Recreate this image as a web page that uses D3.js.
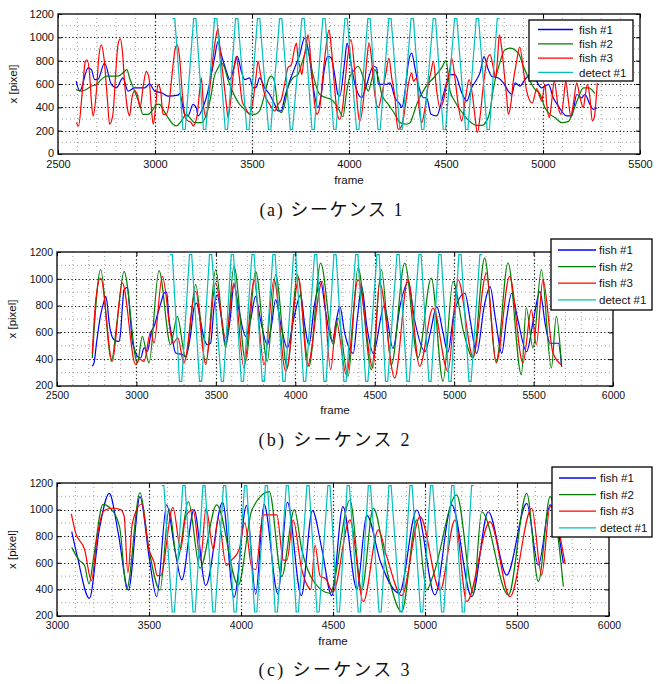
<!DOCTYPE html>
<html>
<head>
<meta charset="utf-8">
<script src="https://cdn.jsdelivr.net/npm/d3@7"></script>
<style>
body { margin: 0; background: #fff; }
text { font-family: "Liberation Sans", Arial, sans-serif; fill: #111; }
.caption { font-family: "Liberation Serif", "DejaVu Serif", "Noto Sans CJK JP", serif; }
</style>
</head>
<body>
<svg id="fig" width="665" height="684"></svg>
<script>
// ---- shared ----
var seriesNames = ["fish #1", "fish #2", "fish #3", "detect #1"];
var seriesColors = ["#0000ff", "#008000", "#ff0000", "#00bfbf"];

// ---- (a) sequence 1 ----
var aXTicks = [2500, 3000, 3500, 4000, 4500, 5000, 5500];
var aYTicks = [0, 200, 400, 600, 800, 1000, 1200];
var aFish1 = [[2594,624],[2612,539],[2655,738],[2672,723],[2689,638],[2706,640],[2740,780],[2775,596],[2800,567],[2835,652],[2861,539],[2895,567],[2947,567],[2972,601],[2998,539],[3033,525],[3067,496],[3118,505],[3127,517],[3153,340],[3170,326],[3196,425],[3213,397],[3222,326],[3247,397],[3273,539],[3290,681],[3307,823],[3325,965],[3342,851],[3368,709],[3385,638],[3411,766],[3424,837],[3445,709],[3462,638],[3488,652],[3505,567],[3522,573],[3539,652],[3565,567],[3591,510],[3617,425],[3634,369],[3651,369],[3668,482],[3694,624],[3720,738],[3746,851],[3771,993],[3797,823],[3814,596],[3840,397],[3857,510],[3874,738],[3892,837],[3909,823],[3926,681],[3943,510],[3952,496],[3977,780],[3990,951],[4005,823],[4031,596],[4065,482],[4091,596],[4126,752],[4143,738],[4151,596],[4194,596],[4211,610],[4237,482],[4263,425],[4272,397],[4289,539],[4306,780],[4323,865],[4340,738],[4357,596],[4383,482],[4400,482],[4423,340],[4452,326],[4478,454],[4503,610],[4521,681],[4546,681],[4581,525],[4607,454],[4632,567],[4658,638],[4675,695],[4696,834],[4718,723],[4735,667],[4770,652],[4796,610],[4821,539],[4839,510],[4856,610],[4881,582],[4907,638],[4933,681],[4960,640],[4993,567],[5028,596],[5053,482],[5079,411],[5122,326],[5148,326],[5174,510],[5199,482],[5216,510],[5242,425],[5259,383],[5280,397]];
var aFish2 = [[2594,553],[2620,539],[2646,553],[2672,581],[2698,596],[2723,638],[2749,667],[2809,667],[2835,695],[2855,723],[2869,652],[2895,539],[2921,425],[2938,340],[2964,340],[2990,383],[3007,425],[3024,425],[3041,383],[3067,312],[3093,255],[3110,241],[3136,284],[3161,340],[3179,312],[3204,269],[3239,269],[3265,340],[3290,511],[3304,652],[3325,738],[3342,780],[3359,738],[3376,638],[3411,496],[3436,425],[3453,397],[3479,354],[3514,340],[3539,369],[3565,511],[3582,624],[3600,667],[3617,610],[3634,397],[3651,354],[3668,425],[3685,567],[3711,652],[3737,681],[3760,794],[3785,900],[3814,681],[3849,511],[3883,482],[3909,468],[3943,397],[3969,320],[3985,500],[4000,640],[4022,709],[4048,752],[4074,652],[4100,539],[4117,638],[4134,723],[4151,652],[4169,511],[4203,425],[4237,340],[4263,269],[4297,255],[4315,269],[4332,340],[4349,425],[4392,567],[4440,660],[4478,740],[4500,800],[4521,540],[4546,450],[4581,360],[4615,290],[4658,245],[4684,245],[4710,284],[4727,369],[4744,560],[4770,740],[4804,894],[4830,908],[4873,865],[4899,752],[4925,652],[4959,553],[4985,511],[5010,397],[5036,340],[5062,312],[5096,269],[5131,280],[5156,369],[5182,482],[5208,567],[5234,567],[5268,520]];
var aFish3 = [[2594,269],[2606,241],[2624,511],[2641,794],[2650,808],[2663,681],[2672,454],[2681,326],[2698,539],[2710,823],[2723,936],[2737,823],[2754,482],[2766,255],[2783,340],[2797,681],[2809,936],[2821,987],[2832,879],[2844,596],[2857,397],[2869,326],[2881,482],[2895,539],[2909,511],[2923,397],[2938,567],[2955,709],[2969,652],[2981,397],[2991,255],[3003,397],[3015,596],[3029,539],[3041,340],[3058,340],[3072,425],[3088,681],[3105,908],[3115,936],[3127,823],[3141,511],[3156,312],[3170,284],[3187,269],[3196,241],[3204,255],[3218,340],[3230,539],[3239,652],[3251,397],[3265,312],[3273,425],[3285,596],[3299,823],[3316,1021],[3325,1078],[3333,936],[3350,681],[3368,425],[3376,312],[3390,454],[3407,738],[3419,837],[3433,681],[3449,454],[3466,397],[3488,340],[3505,454],[3522,681],[3531,794],[3544,681],[3565,511],[3591,425],[3617,369],[3634,425],[3651,468],[3668,596],[3685,738],[3703,766],[3720,908],[3729,951],[3737,823],[3749,738],[3757,681],[3768,823],[3780,936],[3789,1021],[3806,738],[3823,425],[3835,340],[3849,397],[3866,681],[3883,936],[3897,1064],[3909,908],[3926,567],[3940,340],[3952,298],[3969,425],[3983,681],[4010,980],[4030,700],[4048,340],[4057,284],[4074,454],[4091,794],[4103,951],[4113,865],[4131,539],[4151,397],[4169,511],[4189,681],[4206,823],[4220,652],[4237,482],[4246,284],[4254,213],[4272,241],[4289,397],[4306,596],[4323,695],[4332,624],[4349,652],[4361,397],[4375,269],[4392,397],[4409,596],[4423,709],[4435,794],[4452,539],[4469,397],[4486,454],[4503,596],[4521,738],[4529,823],[4546,652],[4564,411],[4581,284],[4601,482],[4619,638],[4636,511],[4650,312],[4662,184],[4675,312],[4693,596],[4710,794],[4727,851],[4744,738],[4756,652],[4766,823],[4775,1021],[4787,908],[4801,681],[4813,482],[4821,340],[4834,425],[4847,624],[4864,794],[4880,917],[4902,681],[4916,539],[4945,437],[4968,560],[4993,454],[5010,596],[5019,425],[5033,312],[5045,454],[5058,624],[5079,397],[5093,340],[5105,454],[5117,624],[5131,454],[5143,326],[5156,425],[5174,610],[5191,482],[5208,397],[5216,482],[5229,596],[5242,482],[5254,284],[5264,312],[5277,539],[5280,610]];
var aDetectTops = [3096, 3205, 3313, 3421, 3534, 3648, 3763, 3871, 3985, 4103, 4211, 4326, 4440, 4550, 4662, 4770];
var aDetectBottoms = [3150, 3256, 3368, 3479, 3591, 3703, 3815, 3927, 4045, 4155, 4268, 4380, 4492, 4607, 4718];
var aDetectLevels = [1160, 210];

// ---- (b) sequence 2 ----
var bXTicks = [2500, 3000, 3500, 4000, 4500, 5000, 5500, 6000];
var bYTicks = [200, 400, 600, 800, 1000, 1200];
var bFish1 = [[2722,347],[2733,372],[2750,533],[2775,732],[2796,832],[2806,869],[2817,807],[2827,682],[2842,583],[2859,546],[2890,533],[2901,608],[2911,782],[2922,919],[2943,936],[2960,732],[2974,533],[2985,484],[3006,421],[3027,409],[3048,484],[3069,459],[3094,608],[3111,645],[3132,732],[3157,832],[3174,894],[3190,900],[3205,700],[3225,560],[3247,446],[3289,434],[3310,421],[3341,583],[3362,782],[3379,819],[3404,682],[3425,558],[3446,508],[3467,521],[3488,782],[3509,881],[3530,750],[3562,508],[3590,700],[3614,956],[3640,800],[3688,570],[3720,700],[3750,869],[3780,700],[3824,508],[3850,650],[3876,844],[3910,650],[3950,483],[3990,700],[4034,881],[4060,650],[4086,508],[4120,800],[4160,981],[4190,760],[4233,533],[4260,700],[4281,792],[4310,600],[4365,444],[4390,700],[4418,941],[4450,650],[4491,444],[4560,800],[4615,480],[4660,800],[4711,978],[4750,700],[4817,456],[4850,600],[4890,792],[4930,600],[4960,450],[5000,750],[5068,892],[5100,700],[5142,444],[5190,800],[5226,941],[5260,700],[5300,444],[5330,700],[5362,892],[5400,700],[5456,456],[5500,700],[5540,904],[5575,650],[5603,519],[5656,519],[5677,344]];
var bFish2 = [[2722,409],[2775,1068],[2842,384],[2880,700],[2922,1056],[3006,372],[3037,570],[3079,372],[3142,1061],[3215,508],[3257,720],[3310,409],[3373,956],[3436,372],[3499,1068],[3562,483],[3614,1093],[3688,384],[3750,1056],[3824,384],[3876,1031],[3950,334],[4013,1031],[4086,347],[4160,1118],[4240,508],[4269,707],[4332,272],[4395,1081],[4479,322],[4542,1068],[4605,359],[4689,1118],[4772,409],[4856,1006],[4930,235],[4993,981],[5060,600],[5119,409],[5192,1155],[5265,384],[5339,1118],[5423,284],[5454,782],[5496,483],[5549,1068],[5612,334],[5643,720],[5675,372]];
var bFish3 = [[2722,440],[2745,850],[2775,1006],[2848,384],[2911,969],[2995,359],[3020,400],[3048,384],[3090,608],[3110,520],[3163,1018],[3230,520],[3260,560],[3299,372],[3373,906],[3436,359],[3499,969],[3562,558],[3614,969],[3677,334],[3740,994],[3803,359],[3866,994],[3940,309],[4023,1006],[4076,347],[4170,981],[4223,322],[4258,682],[4321,284],[4395,994],[4489,334],[4531,969],[4626,260],[4709,994],[4783,347],[4867,782],[4961,309],[5024,994],[5119,421],[5203,1043],[5265,372],[5349,1018],[5433,372],[5486,770],[5517,508],[5559,994],[5622,446],[5675,359]];
var bDetectTops = [3219, 3341, 3467, 3604, 3734, 3866, 3996, 4128, 4250, 4387, 4521, 4647, 4785, 4911, 5037, 5169];
var bDetectBottoms = [3278, 3404, 3541, 3667, 3799, 3929, 4059, 4187, 4313, 4450, 4575, 4710, 4848, 4974, 5100];
var bDetectLevels = [1180, 235];

// ---- (c) sequence 3 ----
var cXTicks = [3000, 3500, 4000, 4500, 5000, 5500, 6000];
var cYTicks = [200, 400, 600, 800, 1000, 1200];
var cFish1 = [[3080,834],[3110,650],[3176,333],[3230,850],[3284,1122],[3333,822],[3388,395],[3451,1097],[3500,650],[3542,345],[3596,1035],[3641,696],[3678,471],[3745,1000],[3808,428],[3900,1055],[3962,340],[4030,1030],[4080,365],[4125,1040],[4201,365],[4252,1055],[4328,353],[4388,992],[4440,700],[4493,353],[4554,1022],[4630,400],[4683,959],[4760,600],[4860,371],[4955,997],[5054,358],[5145,1035],[5254,345],[5344,984],[5444,508],[5553,1047],[5616,583],[5680,1035],[5752,596]];
var cFish2 = [[3080,716],[3120,620],[3150,580],[3174,441],[3200,650],[3250,1040],[3290,1010],[3340,870],[3379,403],[3451,1127],[3500,700],[3560,395],[3609,1005],[3654,616],[3714,1060],[3777,559],[3868,1035],[3985,433],[4060,1000],[4154,1135],[4221,496],[4290,1000],[4330,700],[4400,450],[4484,371],[4592,1072],[4656,395],[4719,1010],[4800,500],[4873,232],[4955,922],[5009,395],[5045,508],[5172,1110],[5263,371],[5308,984],[5453,358],[5553,1122],[5616,458],[5680,1097],[5752,421]];
var cFish3 = [[3078,967],[3100,830],[3150,700],[3187,466],[3219,804],[3255,992],[3301,1010],[3346,1000],[3365,950],[3385,525],[3410,900],[3460,1042],[3500,700],[3527,604],[3545,503],[3563,503],[3630,1017],[3672,704],[3700,950],[3740,1000],[3780,620],[3810,1010],[3850,700],[3876,937],[3920,580],[3949,621],[3990,700],[4020,900],[4060,560],[4080,550],[4120,960],[4195,960],[4230,620],[4250,620],[4283,922],[4330,550],[4360,430],[4380,400],[4402,734],[4430,500],[4460,480],[4500,383],[4592,922],[4665,308],[4746,847],[4792,646],[4873,353],[4973,947],[5082,395],[5163,922],[5227,308],[5353,909],[5462,345],[5580,1010],[5634,508],[5680,1022],[5761,596]];
var cDetectTops = [3575, 3690, 3799, 3911, 4025, 4138, 4252, 4364, 4478, 4583, 4698, 4810, 4924, 5036, 5151, 5259];
var cDetectBottoms = [3632, 3745, 3853, 3968, 4080, 4192, 4306, 4419, 4529, 4643, 4756, 4870, 4982, 5096, 5209];
var cDetectLevels = [1180, 230];

var svg = d3.select("#fig");

// detect track: flat tops / bottoms around each read turning point
function detectPoints(tops, bottoms, levels, half) {
    var pts = [];
    tops.forEach(function(t) { pts.push([t - half, levels[0]], [t + half, levels[0]]); });
    bottoms.forEach(function(b) { pts.push([b - half, levels[1]], [b + half, levels[1]]); });
    return pts.sort(function(a, b) { return a[0] - b[0]; });
}

function drawPanel(p) {
    var x = d3.scaleLinear().domain(p.xDomain).range([p.left, p.right]);
    var y = d3.scaleLinear().domain(p.yDomain).range([p.bottom, p.top]);
    var g = svg.append("g");

    svg.append("clipPath").attr("id", "clip-" + p.id)
        .append("rect")
        .attr("x", p.left).attr("y", p.top)
        .attr("width", p.right - p.left).attr("height", p.bottom - p.top);

    // minor grid
    var xMinor = d3.range(p.xDomain[0] + 100, p.xDomain[1], 100)
        .filter(function(v) { return p.xTicks.indexOf(v) < 0; });
    var yMinor = d3.range(p.yDomain[0] + 100, p.yDomain[1], 100)
        .filter(function(v) { return p.yTicks.indexOf(v) < 0; });
    g.selectAll(".vminor").data(xMinor).enter().append("line")
        .attr("x1", function(d) { return x(d); }).attr("x2", function(d) { return x(d); })
        .attr("y1", p.top).attr("y2", p.bottom)
        .attr("stroke", "#a0a0a0").attr("stroke-dasharray", "1,3");
    g.selectAll(".hminor").data(yMinor).enter().append("line")
        .attr("y1", function(d) { return y(d); }).attr("y2", function(d) { return y(d); })
        .attr("x1", p.left).attr("x2", p.right)
        .attr("stroke", "#a0a0a0").attr("stroke-dasharray", "1,3");

    // major grid
    var xMajor = p.xTicks.slice(1, -1), yMajor = p.yTicks.slice(1, -1);
    g.selectAll(".vmajor").data(xMajor).enter().append("line")
        .attr("x1", function(d) { return Math.round(x(d)) + 0.5; })
        .attr("x2", function(d) { return Math.round(x(d)) + 0.5; })
        .attr("y1", p.top).attr("y2", p.bottom)
        .attr("stroke", "#000").attr("stroke-width", 1.2).attr("stroke-dasharray", "1.2,2.4");
    g.selectAll(".hmajor").data(yMajor).enter().append("line")
        .attr("y1", function(d) { return Math.round(y(d)) + 0.5; })
        .attr("y2", function(d) { return Math.round(y(d)) + 0.5; })
        .attr("x1", p.left).attr("x2", p.right)
        .attr("stroke", "#000").attr("stroke-width", 1.2).attr("stroke-dasharray", "1.2,2.4");

    // data lines
    var line = d3.line()
        .x(function(d) { return x(d[0]); })
        .y(function(d) { return y(d[1]); })
        .curve(d3.curveMonotoneX);
    var detectLine = d3.line()
        .x(function(d) { return x(d[0]); })
        .y(function(d) { return y(d[1]); });
    var lines = g.append("g").attr("clip-path", "url(#clip-" + p.id + ")");
    p.fish.forEach(function(s, i) {
        lines.append("path").datum(s)
            .attr("fill", "none")
            .attr("stroke", seriesColors[i])
            .attr("stroke-width", 1.2)
            .attr("stroke-linejoin", "round")
            .attr("d", line);
    });
    lines.append("path").datum(p.detect)
        .attr("fill", "none")
        .attr("stroke", seriesColors[3])
        .attr("stroke-width", 1.2)
        .attr("d", detectLine);

    // axes with inward ticks
    var fs = p.tickFont + "px";
    var xAxis = g.append("g").attr("transform", "translate(0," + p.bottom + ")")
        .call(d3.axisBottom(x).tickValues(p.xTicks).tickSizeInner(-4).tickSizeOuter(0).tickPadding(6).tickFormat(d3.format("d")));
    var yAxis = g.append("g").attr("transform", "translate(" + p.left + ",0)")
        .call(d3.axisLeft(y).tickValues(p.yTicks).tickSizeInner(-4).tickSizeOuter(0).tickPadding(4).tickFormat(d3.format("d")));
    var xTop = g.append("g").attr("transform", "translate(0," + p.top + ")")
        .call(d3.axisTop(x).tickValues(p.xTicks).tickSizeInner(-4).tickSizeOuter(0).tickFormat(""));
    var yRight = g.append("g").attr("transform", "translate(" + p.right + ",0)")
        .call(d3.axisRight(y).tickValues(p.yTicks).tickSizeInner(-4).tickSizeOuter(0).tickFormat(""));
    [xAxis, yAxis, xTop, yRight].forEach(function(a) {
        a.select(".domain").remove();
        a.selectAll("line").attr("stroke", "#000");
        a.selectAll("text").style("font-size", fs)
            .style("font-family", "'Liberation Sans', Arial, sans-serif").attr("fill", "#111");
    });
    // lift the bottom y label a little so it clears the first x label
    yAxis.selectAll("text").filter(function(d) { return d === p.yDomain[0]; }).attr("dy", "0.2em");

    // box
    g.append("rect")
        .attr("x", p.left).attr("y", p.top)
        .attr("width", p.right - p.left).attr("height", p.bottom - p.top)
        .attr("fill", "none").attr("stroke", "#000").attr("stroke-width", 1.3);

    // axis labels
    g.append("text")
        .attr("x", (p.left + p.right) / 2).attr("y", p.xLabelY)
        .attr("text-anchor", "middle").style("font-size", "11.5px")
        .text("frame");
    g.append("text")
        .attr("transform", "translate(" + p.yLabelX + "," + (p.top + p.bottom) / 2 + ") rotate(-90)")
        .attr("text-anchor", "middle").style("font-size", "11.5px")
        .text("x [pixel]");

    // legend
    var L = p.legend;
    var lg = g.append("g");
    lg.append("rect")
        .attr("x", L.x).attr("y", L.y).attr("width", L.w).attr("height", L.h)
        .attr("fill", "#fff").attr("stroke", "#000").attr("stroke-width", 1.3);
    seriesNames.forEach(function(name, i) {
        var yy = L.row0 + i * L.step;
        lg.append("line")
            .attr("x1", L.lineX0).attr("x2", L.lineX1)
            .attr("y1", yy).attr("y2", yy)
            .attr("stroke", seriesColors[i]).attr("stroke-width", 1.3);
        lg.append("text")
            .attr("x", L.textX).attr("y", yy).attr("dy", "0.36em")
            .style("font-size", "11.5px")
            .text(name);
    });

    // caption
    g.append("text")
        .attr("class", "caption")
        .attr("x", p.captionX).attr("y", p.captionY)
        .attr("text-anchor", "middle")
        .attr("textLength", p.captionLen).attr("lengthAdjust", "spacing")
        .style("font-size", "18px").attr("fill", "#000")
        .text(p.caption);
}

drawPanel({
    id: "a", left: 58, right: 640, top: 14, bottom: 154,
    xDomain: [2500, 5500], yDomain: [0, 1200], xTicks: aXTicks, yTicks: aYTicks,
    fish: [aFish1, aFish2, aFish3],
    detect: detectPoints(aDetectTops, aDetectBottoms, aDetectLevels, 6),
    tickFont: 11, xLabelY: 184, yLabelX: 17,
    legend: { x: 529, y: 20, w: 104, h: 61, row0: 29.5, step: 14.3, lineX0: 538, lineX1: 573, textX: 579 },
    caption: "(a) シーケンス 1", captionX: 331, captionY: 216, captionLen: 143
});
drawPanel({
    id: "b", left: 57, right: 613, top: 252, bottom: 386,
    xDomain: [2500, 6000], yDomain: [200, 1200], xTicks: bXTicks, yTicks: bYTicks,
    fish: [bFish1, bFish2, bFish3],
    detect: detectPoints(bDetectTops, bDetectBottoms, bDetectLevels, 7),
    tickFont: 10.5, xLabelY: 414, yLabelX: 16,
    legend: { x: 551, y: 239, w: 101, h: 71, row0: 250, step: 16.6, lineX0: 558, lineX1: 596, textX: 599 },
    caption: "(b) シーケンス 2", captionX: 334, captionY: 446, captionLen: 151
});
drawPanel({
    id: "c", left: 57, right: 609, top: 483, bottom: 616,
    xDomain: [3000, 6000], yDomain: [200, 1200], xTicks: cXTicks, yTicks: cYTicks,
    fish: [cFish1, cFish2, cFish3],
    detect: detectPoints(cDetectTops, cDetectBottoms, cDetectLevels, 6),
    tickFont: 10.5, xLabelY: 645, yLabelX: 16,
    legend: { x: 552, y: 467, w: 100, h: 70, row0: 478, step: 16.6, lineX0: 559, lineX1: 596, textX: 600 },
    caption: "(c) シーケンス 3", captionX: 334, captionY: 676, captionLen: 151
});
</script>
</body>
</html>
